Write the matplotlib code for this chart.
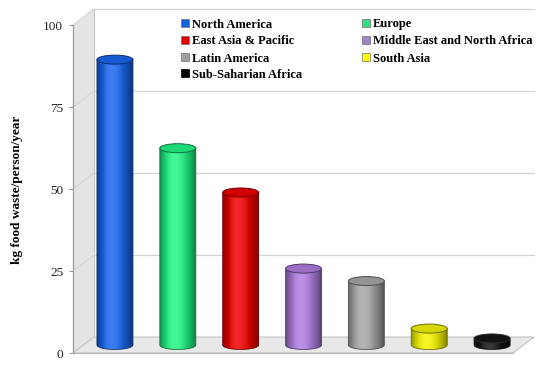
import numpy as np
import matplotlib
matplotlib.use("Agg")
import matplotlib.pyplot as plt
from matplotlib.patches import Ellipse, Polygon, PathPatch, Rectangle
from matplotlib.path import Path
from matplotlib.colors import to_rgb


# =========================
# Data
# =========================
regions = [
    "North America",
    "Europe",
    "East Asia & Pacific",
    "Middle East and North Africa",
    "Latin America",
    "South Asia",
    "Sub-Saharian Africa",
]
waste_kg = [87, 60, 46.5, 23.3, 19.5, 5, 2]
bar_colors = ["#1a66ee", "#22f584", "#f00000", "#b07de0", "#a8a8a8", "#f4f400", "#141414"]
legend_colors = ["#1060e0", "#30e080", "#e00000", "#a080d0", "#a0a0a0", "#ffff00", "#000000"]
y_ticks = [0, 25, 50, 75, 100]
y_label = "kg food waste/person/year"

plt.rcParams["font.family"] = ["Liberation Serif", "DejaVu Serif"]

# =========================
# Layout (pixels on a 550x365 canvas)
# =========================
W, H = 550, 365
PX_FRONT_LEFT = 73      # front axis x
PX_ZERO = 353           # y of value 0 (image coords, top = 0)
PX_PER_CAT = 62.86
PX_PER_UNIT = 3.28
DEPTH_PX = (21, 16)     # oblique offset to the back wall
AX_RIGHT_PX, AX_TOP_PX, AX_BOTTOM_PX = 545, 4, 358

x0, x1 = -0.5, len(regions) - 0.5
ddx = DEPTH_PX[0] / PX_PER_CAT
ddy = DEPTH_PX[1] / PX_PER_UNIT
bar_w = 36 / PX_PER_CAT
ell_h = 9 / PX_PER_UNIT

fig = plt.figure(figsize=(W / 100, H / 100), dpi=100)
ax = fig.add_axes([
    PX_FRONT_LEFT / W,
    (H - AX_BOTTOM_PX) / H,
    (AX_RIGHT_PX - PX_FRONT_LEFT) / W,
    (AX_BOTTOM_PX - AX_TOP_PX) / H,
])
xlim = (x0, x0 + (AX_RIGHT_PX - PX_FRONT_LEFT) / PX_PER_CAT)
ylim = (-(AX_BOTTOM_PX - PX_ZERO) / PX_PER_UNIT, (PX_ZERO - AX_TOP_PX) / PX_PER_UNIT)

edge_gray = "#c4c4c4"
ytop = y_ticks[-1]

# ---- walls and floor ----
ax.add_patch(Polygon([(x0, 0), (x0 + ddx, ddy), (x0 + ddx, ytop + ddy), (x0, ytop)],
                     closed=True, facecolor="#e4e4e4", edgecolor="none", zorder=0))
ax.add_patch(Polygon([(x0, 0), (x1, 0), (x1 + ddx, ddy), (x0 + ddx, ddy)],
                     closed=True, facecolor="#e8e8e8", edgecolor=edge_gray, lw=0.8, zorder=1))
ax.plot([x0 + ddx, x0 + ddx], [ddy, ytop + ddy], color=edge_gray, lw=0.8, zorder=1)
for v in y_ticks[1:]:
    ax.plot([x0 + ddx, x1 + ddx], [v + ddy, v + ddy], color="#d2d2d2", lw=0.9, zorder=1)
    ax.plot([x0, x0 + ddx], [v, v + ddy], color="#d4d4d4", lw=0.8, zorder=1)
ax.plot([x0, x1], [0, 0], color="#b8b8b8", lw=0.9, zorder=1)


# ---- cylinders ----
def shade(t):
    # brightness profile across the cylinder, highlight left of centre
    return np.where(t < 0.4,
                    1 - 0.4 * ((0.4 - t) / 0.4) ** 2,
                    1 - 0.5 * ((t - 0.4) / 0.6) ** 2)


t = np.linspace(0, 1, 120)
s = shade(t)
hl = np.clip((s - 0.85) / 0.15, 0, 1) * 0.15

for i, (val, col) in enumerate(zip(waste_kg, bar_colors)):
    base_rgb = np.array(to_rgb(col))
    grad = base_rgb[None, :] * s[:, None]
    grad = grad * (1 - hl[:, None]) + hl[:, None]
    grad = np.clip(grad, 0, 1)[None, :, :]

    cx = i + ddx / 2
    yb = ddy / 2
    yt = val + ddy / 2
    left, right = cx - bar_w / 2, cx + bar_w / 2

    theta = np.linspace(np.pi, 2 * np.pi, 60)
    bottom_arc = np.column_stack([cx + bar_w / 2 * np.cos(theta), yb + ell_h / 2 * np.sin(theta)])
    verts = np.vstack([[left, yt], bottom_arc, [right, yt], [left, yt]])
    body = Path(verts, closed=True)
    clip = PathPatch(body, transform=ax.transData, facecolor="none", edgecolor="none")

    im = ax.imshow(grad, extent=(left, right, yb - ell_h / 2, yt), aspect="auto",
                   interpolation="bilinear", zorder=3 + i * 0.1)
    im.set_clip_path(clip)
    ax.add_patch(PathPatch(body, facecolor="none", edgecolor=base_rgb * 0.45,
                           lw=0.6, zorder=3 + i * 0.1 + 0.01))
    ax.add_patch(Ellipse((cx, yt), bar_w, ell_h, facecolor=base_rgb * 0.88,
                         edgecolor=base_rgb * 0.45 + (0.15 if col == "#141414" else 0),
                         lw=0.7, zorder=3 + i * 0.1 + 0.02))

# ---- axis ----
ax.set_xlim(*xlim)
ax.set_ylim(*ylim)
for side in ["top", "right", "bottom"]:
    ax.spines[side].set_visible(False)
ax.spines["left"].set_bounds(0, ytop)
ax.spines["left"].set_color("#9a9a9a")
ax.spines["left"].set_linewidth(0.9)
ax.set_facecolor("none")
ax.set_xticks([])
ax.set_yticks(y_ticks)
ax.tick_params(axis="y", length=3, width=0.8, color="#9a9a9a", pad=4, labelsize=9.5,
               labelcolor="#222222")
ax.set_ylabel(y_label, fontsize=9.5, fontweight="bold")
ax.yaxis.set_label_coords((23 - PX_FRONT_LEFT) / (AX_RIGHT_PX - PX_FRONT_LEFT),
                          (AX_BOTTOM_PX - 190) / (AX_BOTTOM_PX - AX_TOP_PX))

# ---- legend (two columns, row-major) ----
col_px = [181, 362]
row_px = [23, 40, 57, 73]
sq = 8
for k, (name, lc) in enumerate(zip(regions, legend_colors)):
    r, c = divmod(k, 2)
    px, py = col_px[c], row_px[r]
    fig.add_artist(Rectangle((px / W, (H - py - sq / 2) / H), sq / W, sq / H,
                             transform=fig.transFigure, facecolor=lc,
                             edgecolor="#707070" if lc != "#000000" else "#000000",
                             lw=0.5, zorder=6))
    fig.text((px + sq + 3) / W, (H - py) / H, name, ha="left", va="center_baseline",
             fontsize=9, fontweight="bold", zorder=6)

fig.savefig("out.png", dpi=100)
